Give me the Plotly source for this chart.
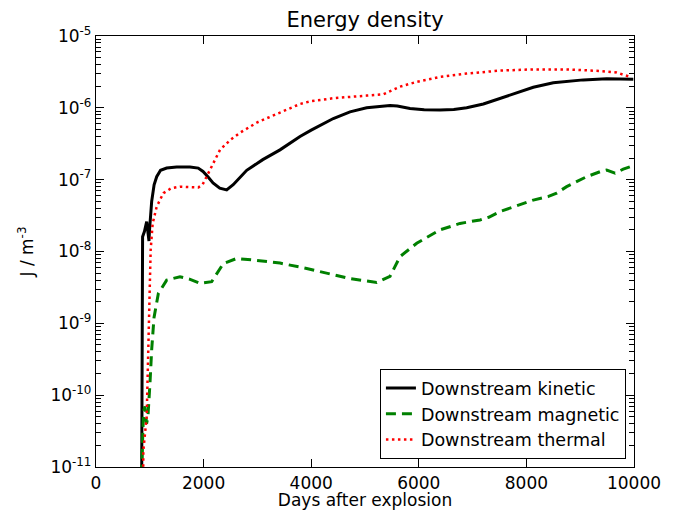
import plotly.graph_objects as go

# ---------------- data ----------------
kinetic_days = [845, 850, 855, 866, 900, 925, 942, 960, 975, 985, 995, 1010, 1035,
                1080, 1128, 1200, 1314, 1500, 1747, 1900, 1989, 2080, 2175, 2300,
                2429, 2550, 2801, 3100, 3420, 3792, 4000, 4411, 4721, 5031, 5300,
                5465, 5600, 5837, 6100, 6394, 6650, 6890, 7200, 7509, 7819, 8128,
                8500, 8750, 9058, 9492, 9750, 9987]
kinetic_vals = [1e-12, 1e-11, 1e-9, 1.6e-8, 1.9e-8, 2.3e-8, 2.6e-8, 2.0e-8, 1.5e-8,
                1.4e-8, 2.0e-8, 3.0e-8, 5.0e-8,
                8.5e-8, 1.1e-7, 1.35e-7, 1.45e-7, 1.5e-7, 1.5e-7, 1.45e-7, 1.3e-7,
                1.1e-7, 9.0e-8, 7.6e-8,
                7.2e-8, 8.5e-8, 1.35e-7, 1.9e-7, 2.6e-7, 4.0e-7, 4.9e-7, 7.1e-7,
                8.8e-7, 1.0e-6, 1.05e-6,
                1.08e-6, 1.06e-6, 9.8e-7, 9.4e-7, 9.3e-7, 9.5e-7, 1.0e-6, 1.13e-6,
                1.35e-6, 1.6e-6, 1.93e-6,
                2.24e-6, 2.35e-6, 2.45e-6, 2.55e-6, 2.5e-6, 2.5e-6]

magnetic_days = [848, 852, 870, 885, 910, 940, 965, 985, 1004, 1035, 1078, 1159,
                 1314, 1561, 1750, 1933, 2150, 2367, 2615, 2925, 3420, 3916, 4300,
                 4721, 5217, 5465, 5651, 5961, 6394, 6766, 7138, 7300, 7509, 8128,
                 8400, 8562, 8748, 9120, 9368, 9492, 9647, 9800, 9926]
magnetic_vals = [1e-12, 1e-11, 3e-11, 6e-11, 7e-11, 4e-11, 5e-11, 8e-11, 1.5e-10,
                 4.3e-10, 1.2e-9, 2.6e-9,
                 4.0e-9, 4.45e-9, 4.1e-9, 3.6e-9, 3.8e-9, 6.8e-9, 8.0e-9, 7.6e-9,
                 6.9e-9, 5.8e-9, 5.0e-9,
                 4.2e-9, 3.7e-9, 4.5e-9, 8.5e-9, 1.3e-8, 2.0e-8, 2.46e-8, 2.75e-8,
                 3.0e-8, 3.6e-8, 5.2e-8,
                 5.8e-8, 6.5e-8, 8.0e-8, 1.1e-7, 1.29e-7, 1.36e-7, 1.23e-7, 1.4e-7,
                 1.51e-7]

thermal_days = [870, 880, 942, 973, 991, 1016, 1053, 1128, 1252, 1400, 1561, 1750,
                1902, 1980, 2057, 2181, 2305, 2500, 2677, 3000, 3420, 3792, 4000,
                4411, 5031, 5341, 5651, 5961, 6394, 6890, 7509, 8128, 8748, 9368,
                9678, 9926]
thermal_vals = [1e-12, 1.7e-11, 5e-11, 4.3e-10, 2.1e-9, 1.05e-8, 2.45e-8, 4.2e-8,
                6.5e-8, 7.6e-8, 8.0e-8, 7.9e-8,
                7.8e-8, 8.5e-8, 1.1e-7, 1.7e-7, 2.6e-7, 3.6e-7, 4.5e-7, 6.3e-7,
                8.5e-7, 1.13e-6, 1.24e-6,
                1.36e-6, 1.48e-6, 1.54e-6, 1.97e-6, 2.3e-6, 2.7e-6, 3.0e-6, 3.3e-6,
                3.43e-6, 3.43e-6, 3.26e-6,
                3.1e-6, 2.7e-6]

series_names = ["Downstream kinetic", "Downstream magnetic", "Downstream thermal"]

x_ticks = [0, 2000, 4000, 6000, 8000, 10000]
y_tickvals = [1e-11, 1e-10, 1e-9, 1e-8, 1e-7, 1e-6, 1e-5]
y_ticktext = ["10<sup>-11</sup>", "10<sup>-10</sup>", "10<sup>-9</sup>",
              "10<sup>-8</sup>", "10<sup>-7</sup>", "10<sup>-6</sup>",
              "10<sup>-5</sup>"]

title_text = "Energy density"
x_label = "Days after explosion"
y_label = "J / m<sup>-3</sup>"

# ---------------- figure ----------------
FONT = "DejaVu Sans"

fig = go.Figure()
fig.add_trace(go.Scatter(x=kinetic_days, y=kinetic_vals, mode="lines",
                         name=series_names[0],
                         line=dict(color="#000000", width=3)))
fig.add_trace(go.Scatter(x=magnetic_days, y=magnetic_vals, mode="lines",
                         name=series_names[1],
                         line=dict(color="#008000", width=3, dash="10px,6px")))
fig.add_trace(go.Scatter(x=thermal_days, y=thermal_vals, mode="lines",
                         name=series_names[2],
                         line=dict(color="#ff0000", width=2.5, dash="2.5px,3.5px")))

axis_common = dict(
    showline=True, linecolor="black", linewidth=1.3, mirror="allticks",
    ticks="inside", ticklen=8, tickwidth=1.3, tickcolor="black",
    showgrid=False, zeroline=False,
    tickfont=dict(family=FONT, size=17, color="black"),
    automargin=False,
)

fig.update_layout(
    width=694, height=510,
    margin=dict(l=96, r=60, t=36, b=43),
    paper_bgcolor="white", plot_bgcolor="white",
    font=dict(family=FONT, color="black"),
    title=dict(text=title_text, x=0.526, xanchor="center", y=1 - 20 / 510,
               yanchor="middle", font=dict(family=FONT, size=21, color="black")),
    xaxis=dict(range=[0, 10000], tickvals=x_ticks,
               ticktext=[str(v) for v in x_ticks],
               title=dict(text=x_label, standoff=7,
                          font=dict(family=FONT, size=17, color="black")),
               **axis_common),
    yaxis=dict(type="log", range=[-11, -5], tickvals=y_tickvals,
               ticktext=y_ticktext,
               minor=dict(ticks="inside", ticklen=4.5, tickwidth=1.1,
                          tickcolor="black", dtick="D1", showgrid=False),
               title=dict(text=y_label, standoff=12,
                          font=dict(family=FONT, size=17, color="black")),
               **axis_common),
    legend=dict(x=0.985, xanchor="right", y=0.018, yanchor="bottom",
                bgcolor="white", bordercolor="black", borderwidth=1,
                font=dict(family=FONT, size=17.5, color="black")),
    showlegend=True,
)

fig.write_html("out.html")
